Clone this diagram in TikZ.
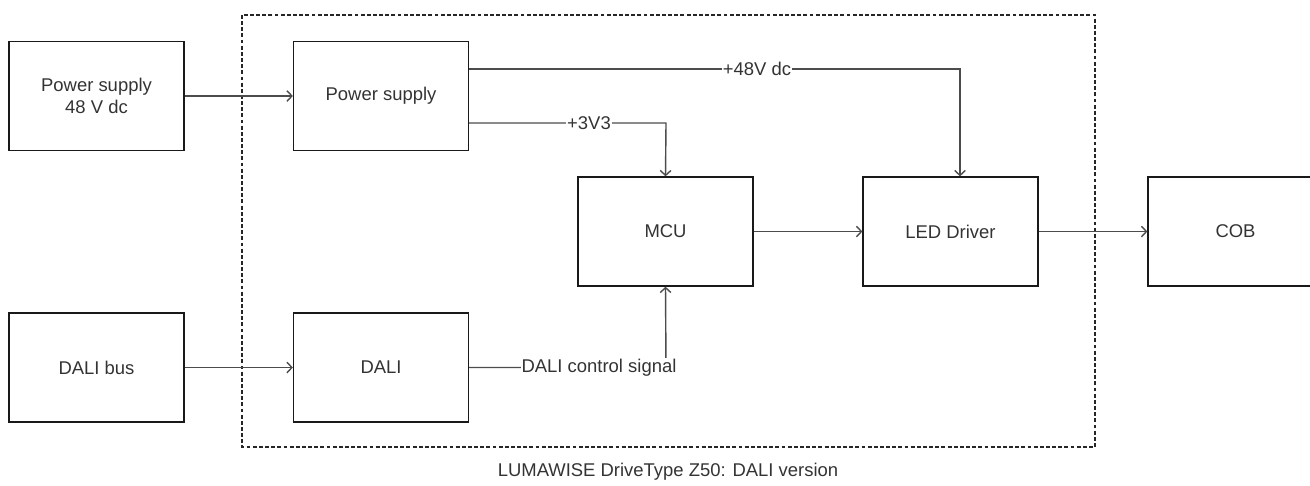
\documentclass[tikz,border=0pt]{standalone}
\usepackage{fontspec}
\setmainfont{Liberation Sans}
\usetikzlibrary{arrows.meta, positioning, calc}

\begin{document}
\begin{tikzpicture}[
		x=0.02cm, y=-0.02cm,
		font=\fontsize{10.5}{12.5}\selectfont,
		% Styles
		block/.style={draw=black!90, line width=0.75pt, text=black!80, minimum width=3.5cm, minimum height=2.18cm, align=center},
		wire/.style={-{Straight Barb[length=2.8pt, width=6pt]}, line width=0.8pt, draw=black!70},
		tag/.style={fill=white, text=black!80, inner sep=0.5pt},
		outline/.style={draw=black!85, line width=0.65pt, dash pattern=on 2.2pt off 1.3pt}
		]
		\useasboundingbox (0,0) rectangle (1310,485);
		
		% =========================================================
		% 1. DRIVER OUTLINE
		% =========================================================
		\draw[outline] (242,15) rectangle (1095,447);
		\node[text=black!80] (caption) at (668,472) {LUMAWISE DriveType Z50: DALI version};
		
		% =========================================================
		% 2. BLOCKS
		% =========================================================
		\node[block] (psin) at (96.5,96) {Power supply\\48 V dc};
		\node[block] (ps) at (381,96) {Power supply};
		\node[block] (dalibus) at (96.5,367.5) {DALI bus};
		\node[block] (dali) at (381,367.5) {DALI};
		\node[block] (mcu) at (665.5,231.5) {MCU};
		\node[block] (led) at (950.5,231.5) {LED Driver};
		\node[block] (cob) at (1235.5,231.5) {COB};
		
		% Corner points of the bent wires
		\coordinate (v48) at (960,69);
		\coordinate (v33) at (666,123);
		\coordinate (ctl) at (666,367.5);
		
		% =========================================================
		% 3. WIRES
		% =========================================================
		\draw[wire] (psin.east) -- (ps.west);
		\draw[wire] (dalibus.east) -- (dali.west);
		\draw[wire] (ps.east |- v48) -- (v48) -- (v48 |- led.north);
		\draw[wire] (ps.east |- v33) -- (v33) -- (mcu.north);
		\draw[wire] (dali.east) -- (ctl) -- (mcu.south);
		\draw[wire] (mcu.east) -- (led.west);
		\draw[wire] (led.east) -- (cob.west);
		
		% Wire labels
		\node[tag] (l48) at (757,69) {+48V dc};
		\node[tag] (l33) at (589,123) {+3V3};
		\node[tag] (lctl) at (599,367.5) {DALI control signal};
		
	\end{tikzpicture}
\end{document}
